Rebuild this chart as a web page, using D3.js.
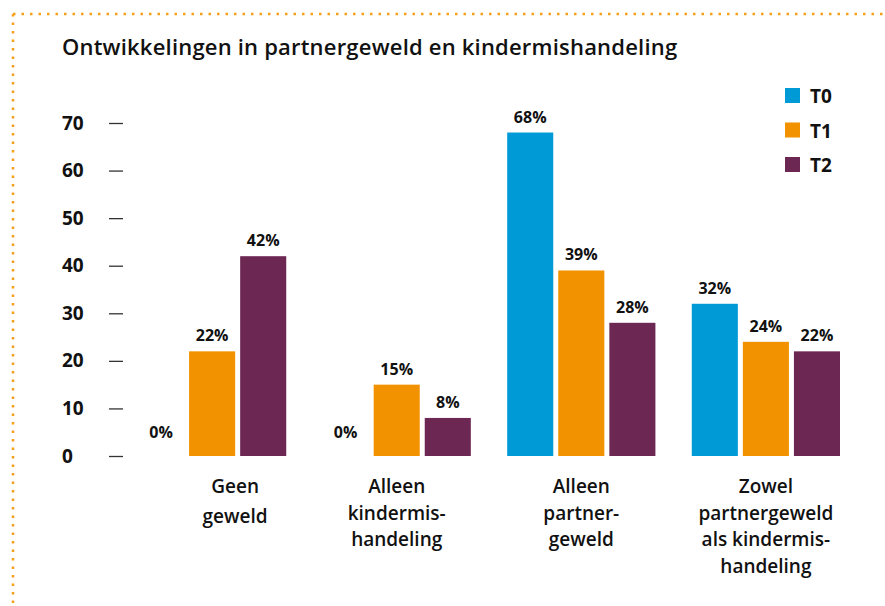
<!DOCTYPE html>
<html>
<head>
<meta charset="utf-8">
<script src="https://cdn.jsdelivr.net/npm/d3@7"></script>
<style>
  html, body { margin: 0; padding: 0; background: #fff; }
  svg { display: block; font-family: "Open Sans", sans-serif; }
</style>
</head>
<body>
<svg id="chart" width="885" height="606"></svg>
<script>
// ---- data ----
const title = "Ontwikkelingen in partnergeweld en kindermishandeling";
const categories = ["Geen geweld", "Alleen kindermishandeling", "Alleen partnergeweld", "Zowel partnergeweld als kindermishandeling"];
const categoryLines = [
  ["Geen", "geweld"],
  ["Alleen", "kindermis-", "handeling"],
  ["Alleen", "partner-", "geweld"],
  ["Zowel", "partnergeweld", "als kindermis-", "handeling"]
];
const seriesNames = ["T0", "T1", "T2"];
const T0 = [0, 0, 68, 32];
const T1 = [22, 15, 39, 24];
const T2 = [42, 8, 28, 22];
const yTicks = [0, 10, 20, 30, 40, 50, 60, 70];
const colors = ["#009ad7", "#f39200", "#6c2753"];

const seriesValues = [T0, T1, T2];

const svg = d3.select("#chart");

// dotted frame
const frameColor = "#f5a01a";
svg.append("line").attr("x1", 13).attr("y1", 14).attr("x2", 885).attr("y2", 14)
  .attr("stroke", frameColor).attr("stroke-width", 2.5).attr("stroke-dasharray", "2.5 6");
svg.append("line").attr("x1", 13).attr("y1", 14).attr("x2", 13).attr("y2", 606)
  .attr("stroke", frameColor).attr("stroke-width", 2.5).attr("stroke-dasharray", "2.5 6");

// title
svg.append("text").attr("x", 62).attr("y", 55)
  .attr("font-size", 22).attr("font-weight", 600).attr("letter-spacing", 0.2).attr("fill", "#111")
  .text(title);

// scales
const y = d3.scaleLinear().domain([0, 70]).range([456, 123]);
const x0 = d3.scaleBand().domain(categories).range([138, 840]).paddingInner(0.197).paddingOuter(0);
const x1 = d3.scaleBand().domain(seriesNames).range([0, x0.bandwidth()]).paddingInner(0.098).paddingOuter(0);
const color = d3.scaleOrdinal().domain(seriesNames).range(colors);

// y axis (tick marks + labels)
const yAxis = d3.axisLeft(y).tickValues(yTicks).tickSize(14).tickPadding(0).tickFormat(d3.format("d"));
const gy = svg.append("g").attr("transform", "translate(123,0)").call(yAxis);
gy.select(".domain").remove();
gy.selectAll(".tick line").attr("stroke", "#333").attr("stroke-width", 1.3);
gy.selectAll(".tick text")
  .attr("x", -61).attr("text-anchor", "start")
  .attr("font-family", "Open Sans, sans-serif")
  .attr("font-size", 19).attr("font-weight", 700).attr("fill", "#111");

// bars
const rows = categories.map((c, i) => ({ cat: c, vals: seriesNames.map((s, j) => ({ s, v: seriesValues[j][i] })) }));
const groups = svg.append("g").selectAll("g").data(rows).join("g")
  .attr("transform", d => `translate(${x0(d.cat)},0)`);

groups.selectAll("rect").data(d => d.vals).join("rect")
  .attr("x", d => x1(d.s)).attr("width", x1.bandwidth())
  .attr("y", d => y(d.v)).attr("height", d => y(0) - y(d.v))
  .attr("fill", d => color(d.s));

groups.selectAll("text.val").data(d => d.vals).join("text")
  .attr("class", "val")
  .attr("x", d => x1(d.s) + x1.bandwidth() / 2)
  .attr("y", d => d.v === 0 ? y(0) - 18 : y(d.v) - 10)
  .attr("text-anchor", "middle")
  .attr("font-size", 16).attr("font-weight", 700).attr("fill", "#111")
  .text(d => d.v + "%");

// category labels
svg.append("g").selectAll("text").data(categories).join("text")
  .attr("x", d => x0(d) + x0.bandwidth() / 2 + (categories.indexOf(d) === 0 ? 23 : 0))
  .attr("y", 493)
  .attr("text-anchor", "middle")
  .attr("font-size", 19).attr("font-weight", 600).attr("fill", "#111")
  .each(function(d, i) {
    const t = d3.select(this);
    categoryLines[i].forEach((line, k) => {
      t.append("tspan").attr("x", t.attr("x")).attr("dy", k === 0 ? 0 : (i === 0 ? 30 : 26.5)).text(line);
    });
  });

// legend
const legend = svg.append("g").selectAll("g").data(seriesNames).join("g")
  .attr("transform", (d, i) => `translate(785,${88 + i * 34.5})`);
legend.append("rect").attr("width", 15).attr("height", 15).attr("fill", d => color(d));
legend.append("text").attr("x", 25).attr("y", 15)
  .attr("font-size", 19).attr("font-weight", 700).attr("fill", "#111")
  .text(d => d);
</script>
</body>
</html>
